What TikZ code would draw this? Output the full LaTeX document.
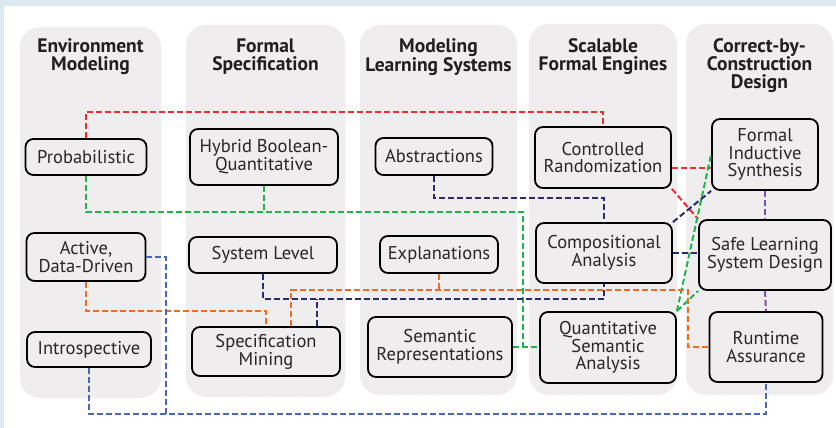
\documentclass[tikz,border=0pt]{standalone}
\usepackage{fontspec}
\setmainfont{PT Sans}
\usetikzlibrary{calc}
\definecolor{bgblue}{HTML}{DCE9F3}
\definecolor{panel}{HTML}{EFEDEE}
\definecolor{cred}{HTML}{EE2D2D}
\definecolor{cgreen}{HTML}{1FB44B}
\definecolor{cnavy}{HTML}{2A2A6E}
\definecolor{corange}{HTML}{F36A21}
\definecolor{cblue}{HTML}{4A68B8}
\definecolor{cpurple}{HTML}{7F4FA8}
\tikzset{
  panelbox/.style={fill=panel, draw=none, rounded corners=20pt},
  hdr/.style={font=\bfseries\fontsize{19.5}{18}\selectfont, align=center, text=black!88, inner sep=0pt},
  box/.style={draw=black, line width=1.8pt, fill=panel, rounded corners=8pt, align=center,
    font=\fontsize{18.5}{17.8}\selectfont, inner sep=0pt, text=black!85},
  conn/.style={line width=2pt, dash pattern=on 6pt off 3pt},
}
\begin{document}
\begin{tikzpicture}[x=1pt,y=-1pt]
\useasboundingbox (0,0) rectangle (836,428);
\fill[bgblue] (0,0) rectangle (836,428);
\fill[white] (4,6) rectangle (836,428);
% panels
\fill[panelbox] (20,27) rectangle (161,398);
\fill[panelbox] (186,25) rectangle (345,397);
\fill[panelbox] (360,25) rectangle (517,395);
\fill[panelbox] (529,24) rectangle (677,395);
\fill[panelbox] (686,24) rectangle (833,395);
% headers
\node[hdr] (h1) at (90.5,57) {Environment\\Modeling};
\node[hdr] (h2) at (265.5,57) {Formal\\Specification};
\node[hdr] (h3) at (438.5,57) {Modeling\\Learning Systems};
\node[hdr] (h4) at (603,57) {Scalable\\Formal Engines};
\node[hdr] (h5) at (759.5,66) {Correct-by-\\Construction\\Design};
% nodes
\node[box, minimum width=121pt, minimum height=36pt] (prob) at (86,157) {Probabilistic};
\node[box, minimum width=119pt, minimum height=48pt] (adata) at (86,257) {Active,\\Data-Driven};
\node[box, minimum width=124pt, minimum height=35pt] (intro) at (89,349.5) {Introspective};
\node[box, minimum width=148pt, minimum height=56pt] (hyb) at (264,157) {Hybrid Boolean-\\Quantitative};
\node[box, minimum width=148pt, minimum height=36pt] (sys) at (263,255) {System Level};
\node[box, minimum width=148pt, minimum height=49pt] (specm) at (266,351.5) {Specification\\Mining};
\node[box, minimum width=117pt, minimum height=37pt] (abs) at (434,156.5) {Abstractions};
\node[box, minimum width=118pt, minimum height=37pt] (expl) at (439,254.5) {Explanations};
\node[box, minimum width=144pt, minimum height=60pt] (semrep) at (440,347) {Semantic\\Representations};
\node[box, minimum width=136pt, minimum height=61pt] (ctrl) at (603,157.5) {Controlled\\Randomization};
\node[box, minimum width=136pt, minimum height=60pt] (comp) at (604,253) {Compositional\\Analysis};
\node[box, minimum width=136pt, minimum height=71pt] (qsa) at (608,347.5) {Quantitative\\Semantic\\Analysis};
\node[box, minimum width=106pt, minimum height=71pt] (fis) at (765,154.5) {Formal\\Inductive\\Synthesis};
\node[box, minimum width=132pt, minimum height=70pt] (safe) at (765,255) {Safe Learning\\System Design};
\node[box, minimum width=113pt, minimum height=70pt] (ra) at (766,347) {Runtime\\Assurance};
% connectors
% red
\draw[conn, cred] (prob.north) -- (prob.north |- 0,112) -| (ctrl.north);
\draw[conn, cred] (ctrl.east |- 0,168) -- (fis.west |- 0,168);
\draw[conn, cred] (ctrl.south east) -- (safe.north west);
% green
\coordinate (g1) at (523,212);
\draw[conn, cgreen] (prob.south) |- (g1) -- (semrep.east -| g1);
\draw[conn, cgreen] (hyb.south) -- (hyb.south |- g1);
\draw[conn, cgreen] (semrep.east) -- (qsa.west |- semrep.east);
\draw[conn, cgreen] (qsa.north east) -- (fis.west);
\draw[conn, cgreen] (qsa.north east) -- (safe.south west);
% navy
\draw[conn, cnavy] (abs.south) -- (abs.south |- 0,198) -| (comp.north);
\draw[conn, cnavy] (comp.east) -- (comp.east -| safe.west);
\draw[conn, cnavy] (comp.north east) -- (fis.south west);
\draw[conn, cnavy] (sys.south) -- (sys.south |- 0,299) -| (comp.south);
\draw[conn, cnavy] (specm.north -| 317,0) -- (317,299);
% orange
\draw[conn, corange] (adata.south) -- (adata.south |- 0,311) -| (specm.north);
\draw[conn, corange] (specm.north -| 291,0) -- (291,290) -- (688,290) |- (ra.west);
\draw[conn, corange] (expl.south) -- (expl.south |- 0,290);
% blue
\draw[conn, cblue] (adata.east) -| (166,414);
\draw[conn, cblue] (intro.south) -- (intro.south |- 0,414) -| (ra.south);
% purple
\draw[conn, cpurple] (fis.south) -- (safe.north);
\draw[conn, cpurple] (safe.south) -- (ra.north);
\end{tikzpicture}
\end{document}
